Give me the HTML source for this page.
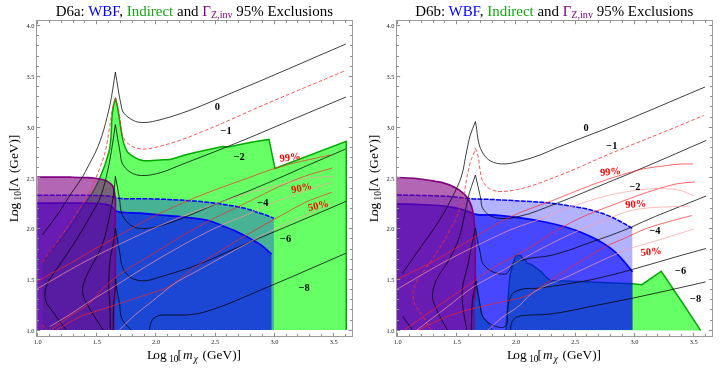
<!DOCTYPE html>
<html><head><meta charset="utf-8"><title>D6a / D6b exclusions</title>
<style>
html,body{margin:0;padding:0;background:#fff}
body{width:720px;height:370px;overflow:hidden}
svg{display:block;will-change:transform;opacity:0.999}
text{font-family:"Liberation Serif",serif;fill:#000}
.ttl{font-size:14.95px}
.ax{font-size:13.3px}
.sub{font-size:9.3px}
.sub2{font-size:10.1px}
.tk{font-size:6.4px;fill:#1a1a1a}
.cl{font-size:10.4px;font-weight:bold}
.rl{font-size:10.5px;font-weight:bold;fill:#ff0000}
</style></head><body>
<svg width="720" height="370" viewBox="0 0 720 370">
<rect width="720" height="370" fill="#fff"/>
<g id="left">
<path d="M42.5,330 L42.5,262 C45.00,258.75 47.48,255.49 50.00,252.25 C56.55,243.83 63.77,235.90 70.00,227.25 C76.76,217.87 82.07,207.46 88.75,198.00 C89.58,196.83 90.45,195.69 91.25,194.50 C94.80,189.25 97.43,183.38 100.00,177.60 C103.66,169.37 106.70,160.70 108.90,152.00 C112.66,137.16 110.21,121.04 113.50,106.00 C114.08,103.36 114.77,100.73 115.40,98.10 C116.02,100.73 116.68,103.36 117.25,106.00 C119.03,114.25 119.70,122.71 121.25,131.00 C122.03,135.18 122.41,139.49 123.75,143.50 C124.73,146.42 125.64,149.66 127.50,152.00 C129.38,154.36 132.28,156.13 135.00,157.60 C137.34,158.86 139.91,159.99 142.50,160.50 C144.92,160.98 147.50,160.78 150.00,160.75 C153.34,160.71 156.66,160.23 160.00,160.00 C163.33,159.78 166.72,159.89 170.00,159.40 C175.12,158.64 179.97,156.34 185.00,155.00 C191.20,153.35 197.49,152.02 203.75,150.60 C209.99,149.19 216.25,147.87 222.50,146.50 L228.10,146.90 L250.00,142.50 L269.00,139.40 L275.00,168.50 L346.25,141.25 L346.25,330.00 Z" fill="#66ff66" stroke="none"/>
<path d="M42.50,262.00 C45.00,258.75 47.48,255.49 50.00,252.25 C56.55,243.83 63.77,235.90 70.00,227.25 C76.76,217.87 82.07,207.46 88.75,198.00 C89.58,196.83 90.45,195.69 91.25,194.50 C94.80,189.25 97.43,183.38 100.00,177.60 C103.66,169.37 106.70,160.70 108.90,152.00 C112.66,137.16 110.21,121.04 113.50,106.00 C114.08,103.36 114.77,100.73 115.40,98.10 C116.02,100.73 116.68,103.36 117.25,106.00 C119.03,114.25 119.70,122.71 121.25,131.00 C122.03,135.18 122.41,139.49 123.75,143.50 C124.73,146.42 125.64,149.66 127.50,152.00 C129.38,154.36 132.28,156.13 135.00,157.60 C137.34,158.86 139.91,159.99 142.50,160.50 C144.92,160.98 147.50,160.78 150.00,160.75 C153.34,160.71 156.66,160.23 160.00,160.00 C163.33,159.78 166.72,159.89 170.00,159.40 C175.12,158.64 179.97,156.34 185.00,155.00 C191.20,153.35 197.49,152.02 203.75,150.60 C209.99,149.19 216.25,147.87 222.50,146.50 L228.10,146.90 L250.00,142.50 L269.00,139.40 L275.00,168.50 L346.25,141.25 L346.25,330.00" fill="none" stroke="#00a800" stroke-width="1.5" stroke-linejoin="miter"/>
<path d="M37.30,195.25 C48.20,195.27 59.10,195.24 70.00,195.30 C80.00,195.36 90.01,195.28 100.00,195.60 C102.67,195.68 105.36,195.56 108.00,195.90 C109.34,196.07 110.69,196.26 112.00,196.60 C113.36,196.95 114.63,197.70 116.00,198.00 C117.30,198.28 118.67,198.29 120.00,198.40 C126.64,198.97 133.33,198.58 140.00,198.70 C146.67,198.82 153.34,198.87 160.00,199.10 C168.34,199.39 176.68,199.83 185.00,200.40 C193.34,200.97 201.70,201.52 210.00,202.50 C216.69,203.29 223.38,204.20 230.00,205.40 C236.71,206.61 243.52,207.65 250.00,209.75 C252.10,210.43 254.16,211.28 256.25,212.00 C259.15,212.99 262.11,213.78 265.00,214.80 C268.00,215.86 270.93,217.10 273.90,218.25 L273.90,330.0 L37.30,330.0 Z" fill="#0000ff" fill-opacity="0.3" stroke="none"/>
<path d="M37.30,195.25 C48.20,195.27 59.10,195.24 70.00,195.30 C80.00,195.36 90.01,195.28 100.00,195.60 C102.67,195.68 105.36,195.56 108.00,195.90 C109.34,196.07 110.69,196.26 112.00,196.60 C113.36,196.95 114.63,197.70 116.00,198.00 C117.30,198.28 118.67,198.29 120.00,198.40 C126.64,198.97 133.33,198.58 140.00,198.70 C146.67,198.82 153.34,198.87 160.00,199.10 C168.34,199.39 176.68,199.83 185.00,200.40 C193.34,200.97 201.70,201.52 210.00,202.50 C216.69,203.29 223.38,204.20 230.00,205.40 C236.71,206.61 243.52,207.65 250.00,209.75 C252.10,210.43 254.16,211.28 256.25,212.00 C259.15,212.99 262.11,213.78 265.00,214.80 C268.00,215.86 270.93,217.10 273.90,218.25" fill="none" stroke="#0000ff" stroke-width="1.5" stroke-dasharray="5 1.2"/>
<path d="M37.30,203.10 C48.20,203.10 59.10,202.99 70.00,203.10 C80.00,203.20 90.05,202.74 100.00,203.70 C102.09,203.90 104.26,203.85 106.25,204.40 C108.45,205.01 110.77,205.95 112.50,207.40 C113.70,208.41 114.29,210.34 115.60,211.10 C116.82,211.81 118.53,211.74 120.00,212.00 C126.57,213.17 133.34,212.70 140.00,213.20 C146.67,213.70 153.33,214.40 160.00,215.00 C168.33,215.75 176.70,216.26 185.00,217.25 C193.36,218.25 201.97,218.61 210.00,221.00 C214.25,222.26 218.35,224.13 222.50,225.75 C226.68,227.38 230.91,228.91 235.00,230.75 C240.13,233.06 245.08,235.77 250.00,238.50 C253.80,240.61 257.74,242.57 261.25,245.10 C264.94,247.76 268.08,251.17 271.50,254.20 L271.50,330.0 L37.30,330.0 Z" fill="#0000ff" fill-opacity="0.6" stroke="none"/>
<path d="M37.30,203.10 C48.20,203.10 59.10,202.99 70.00,203.10 C80.00,203.20 90.05,202.74 100.00,203.70 C102.09,203.90 104.26,203.85 106.25,204.40 C108.45,205.01 110.77,205.95 112.50,207.40 C113.70,208.41 114.29,210.34 115.60,211.10 C116.82,211.81 118.53,211.74 120.00,212.00 C126.57,213.17 133.34,212.70 140.00,213.20 C146.67,213.70 153.33,214.40 160.00,215.00 C168.33,215.75 176.70,216.26 185.00,217.25 C193.36,218.25 201.97,218.61 210.00,221.00 C214.25,222.26 218.35,224.13 222.50,225.75 C226.68,227.38 230.91,228.91 235.00,230.75 C240.13,233.06 245.08,235.77 250.00,238.50 C253.80,240.61 257.74,242.57 261.25,245.10 C264.94,247.76 268.08,251.17 271.50,254.20" fill="none" stroke="#0000ff" stroke-width="1.7"/>
<path d="M37.30,177.20 C48.20,177.20 59.10,177.00 70.00,177.20 C75.00,177.29 80.01,177.35 85.00,177.60 C88.34,177.77 91.71,177.77 95.00,178.25 C99.23,178.87 103.94,179.18 107.50,181.40 C109.33,182.54 111.35,183.97 112.50,185.75 C113.63,187.51 113.94,189.88 114.40,192.00 C114.83,193.97 115.04,195.99 115.25,198.00 C115.84,203.63 115.28,209.33 115.30,215.00 L115.30,330.0 L37.30,330.0 Z" fill="#800080" fill-opacity="0.6" stroke="none"/>
<path d="M37.30,177.20 C48.20,177.20 59.10,177.00 70.00,177.20 C75.00,177.29 80.01,177.35 85.00,177.60 C88.34,177.77 91.71,177.77 95.00,178.25 C99.23,178.87 103.94,179.18 107.50,181.40 C109.33,182.54 111.35,183.97 112.50,185.75 C113.63,187.51 113.94,189.88 114.40,192.00 C114.83,193.97 115.04,195.99 115.25,198.00 C115.84,203.63 115.28,209.33 115.30,215.00 L115.3,299.5" fill="none" stroke="#800080" stroke-width="1.7"/>
<path d="M42.50,234.75 C48.33,226.83 54.55,219.17 60.00,211.00 C63.49,205.77 66.55,200.26 70.00,195.00 C74.01,188.90 78.82,183.29 82.50,177.00 C84.59,173.43 86.37,169.67 88.30,166.00 C90.75,161.34 93.39,156.76 95.60,152.00 C102.34,137.50 106.19,121.61 109.70,106.00 C112.21,94.84 113.50,83.40 115.40,72.10 M115.40,72.10 C117.37,83.40 118.72,94.83 121.30,106.00 C121.69,107.67 121.83,109.48 122.50,111.00 C123.87,114.13 127.10,116.56 130.00,118.50 C132.26,120.01 134.87,121.35 137.50,122.00 C139.89,122.59 142.51,122.53 145.00,122.50 C150.05,122.43 155.06,120.94 160.00,119.80 C166.77,118.24 173.39,115.97 180.00,113.80 C197.58,108.04 214.38,100.04 231.50,93.00 C269.86,77.22 307.77,60.33 345.90,44.00" fill="none" stroke="#000" stroke-width="0.75" stroke-linejoin="miter"/>
<path d="M66.25,330.00 C61.30,323.33 56.16,316.80 51.40,310.00 C49.78,307.68 47.68,305.54 46.60,303.00 C45.18,299.68 44.68,295.61 45.00,292.00 C45.26,289.05 46.33,286.02 47.50,283.25 C49.02,279.66 51.61,276.55 53.75,273.25 C57.34,267.73 61.29,262.44 65.00,257.00 C67.94,252.68 70.92,248.39 73.75,244.00 C79.51,235.08 84.82,225.87 90.00,216.60 C93.44,210.46 97.32,204.47 100.00,198.00 C102.78,191.29 104.47,184.07 106.25,177.00 C108.32,168.77 109.77,160.37 111.25,152.00 C112.86,142.87 114.02,133.67 115.40,124.50 M115.40,124.50 C116.93,133.67 118.20,142.88 120.00,152.00 C120.78,155.98 120.66,160.45 122.50,163.90 C124.17,167.03 126.98,170.05 130.00,172.00 C132.22,173.44 134.90,174.53 137.50,175.10 C139.91,175.63 142.51,175.56 145.00,175.50 C150.05,175.38 155.10,174.08 160.00,172.80 C166.87,171.01 173.34,167.75 180.00,165.20 C203.43,156.22 226.81,147.09 250.00,137.50 C263.80,131.79 277.49,125.81 291.25,120.00 C309.48,112.30 327.75,104.67 346.00,97.00" fill="none" stroke="#000" stroke-width="0.75" stroke-linejoin="miter"/>
<path d="M103.10,330.00 C100.40,325.83 97.63,321.71 95.00,317.50 C92.43,313.38 89.79,309.28 87.50,305.00 C86.18,302.54 84.58,300.13 83.75,297.50 C82.97,295.05 82.48,292.35 82.50,289.80 C82.53,286.34 83.84,282.82 85.00,279.50 C86.27,275.86 88.24,272.45 90.00,269.00 C92.16,264.76 94.78,260.76 96.90,256.50 C98.93,252.42 100.86,248.24 102.50,244.00 C106.63,233.32 108.23,221.74 110.60,210.50 C111.48,206.34 112.41,202.19 113.10,198.00 C114.28,190.86 114.63,183.60 115.40,176.40 M115.40,176.40 C116.73,183.60 118.10,190.79 119.40,198.00 C120.45,203.83 119.83,210.39 122.50,215.50 C124.04,218.44 126.18,221.47 128.75,223.60 C130.91,225.38 133.58,226.91 136.25,227.75 C138.99,228.61 142.09,228.60 145.00,228.60 C150.03,228.59 155.10,227.25 160.00,226.00 C164.41,224.88 168.69,223.20 173.00,221.70 C188.57,216.29 203.47,209.08 218.75,202.90 C229.15,198.69 239.63,194.68 250.00,190.40 C261.31,185.73 272.54,180.90 283.75,176.00 C291.27,172.71 298.74,169.30 306.25,166.00 C319.33,160.25 332.48,154.67 345.60,149.00" fill="none" stroke="#000" stroke-width="0.75" stroke-linejoin="miter"/>
<path d="M110.25,330.00 C110.08,320.83 110.30,311.65 109.75,302.50 C109.50,298.33 108.90,294.17 108.75,290.00 C108.58,285.09 108.77,280.16 109.00,275.25 C109.29,268.99 109.65,262.69 110.60,256.50 C111.24,252.31 112.37,248.18 113.10,244.00 C114.03,238.69 114.63,233.33 115.40,228.00 M115.40,228.00 C116.30,233.33 117.13,238.68 118.10,244.00 C118.71,247.34 119.40,250.66 120.00,254.00 C120.67,257.74 120.70,261.67 121.90,265.25 C122.69,267.61 123.59,270.08 125.00,272.10 C126.33,274.00 128.10,275.78 130.00,277.10 C132.19,278.61 134.91,279.64 137.50,280.25 C140.69,281.00 144.22,280.84 147.50,280.50 C151.76,280.05 155.84,278.20 160.00,277.00 C169.72,274.19 179.45,271.30 189.00,268.00 C209.87,260.78 229.65,250.63 250.00,242.00 C273.73,231.94 297.56,222.13 321.25,212.00 C329.59,208.43 337.92,204.83 346.25,201.25" fill="none" stroke="#000" stroke-width="0.75" stroke-linejoin="miter"/>
<path d="M113.10,330.00 C113.32,320.83 113.06,311.64 113.75,302.50 C114.07,298.33 114.68,294.17 115.00,290.00 C115.28,286.34 115.40,282.67 115.60,279.00 M115.60,279.00 C116.03,282.67 116.33,286.35 116.90,290.00 C117.55,294.20 118.61,298.33 119.40,302.50 C120.51,308.32 119.60,314.98 122.50,320.00 C123.52,321.77 124.90,323.42 126.25,325.00 C127.78,326.78 129.58,328.33 131.25,330.00" fill="none" stroke="#000" stroke-width="0.75" stroke-linejoin="miter"/>
<path d="M149.40,330.00 C149.80,327.92 149.91,325.73 150.60,323.75 C151.21,322.01 151.90,320.06 153.10,318.75 C154.49,317.23 156.75,316.27 158.75,315.60 C161.46,314.70 164.58,315.14 167.50,315.00 C173.74,314.71 180.03,315.45 186.25,315.00 C190.01,314.73 193.79,314.35 197.50,313.70 C205.19,312.36 212.61,309.46 220.00,306.90 C230.20,303.36 240.02,298.75 250.00,294.60 C278.49,282.77 306.72,270.32 335.00,258.00 C338.67,256.40 342.33,254.80 346.00,253.20" fill="none" stroke="#000" stroke-width="0.75" stroke-linejoin="miter"/>
<path d="M42.50,262.00 C43.75,260.33 45.01,258.67 46.25,257.00 C57.38,242.04 68.04,226.70 78.10,211.00 C80.86,206.69 83.74,202.45 86.25,198.00 C90.06,191.26 93.25,184.14 96.25,177.00 C99.67,168.85 102.97,160.53 105.20,152.00 C107.21,144.33 108.06,136.34 109.40,128.50 C110.68,121.01 111.36,113.39 113.10,106.00 C113.79,103.08 114.63,100.20 115.40,97.30 M115.40,97.30 C116.20,100.20 117.11,103.08 117.80,106.00 C118.78,110.12 119.40,114.32 120.10,118.50 C121.02,123.98 120.57,129.84 122.50,135.00 C123.19,136.84 123.90,138.80 125.00,140.40 C126.79,143.01 129.69,145.15 132.50,146.60 C135.48,148.13 139.11,148.91 142.50,149.10 C144.97,149.24 147.52,148.85 150.00,148.50 C153.38,148.02 156.68,147.03 160.00,146.20 C166.74,144.51 173.42,142.51 180.00,140.30 C188.90,137.31 197.54,133.53 206.25,130.00 C227.73,121.31 248.68,111.33 270.00,102.25 C277.29,99.15 284.60,96.08 291.90,93.00 C309.88,85.42 327.90,77.93 345.90,70.40" fill="none" stroke="#ff2a2a" stroke-width="0.8" stroke-linejoin="miter" stroke-dasharray="3.7 2.2"/>
<path d="M42.3,325 L46.25,330" fill="none" stroke="#ff2020" stroke-width="0.9" stroke-dasharray="3.4 1.6"/>
<path d="M37.30,281.25 C51.95,273.17 66.94,265.67 81.25,257.00 C84.18,255.22 87.05,253.34 90.00,251.60 C94.51,248.94 99.16,246.53 103.75,244.00 C122.46,233.69 140.78,222.58 160.00,213.30 C169.87,208.53 179.91,204.04 190.00,199.75 C209.65,191.40 229.93,184.56 250.00,177.25 C258.32,174.22 266.58,170.95 275.00,168.25 C292.93,162.49 311.67,159.42 330.00,155.00" fill="none" stroke="#ff2020" stroke-width="0.85" stroke-opacity="0.8"/>
<path d="M50.60,330.00 C57.07,325.42 63.46,320.73 70.00,316.25 C76.60,311.73 84.17,308.37 90.00,303.00 C94.18,299.15 97.31,294.12 101.25,290.00 C117.59,272.88 139.89,262.17 160.00,249.50 C175.33,239.85 190.92,230.51 206.90,222.00 C220.99,214.49 235.68,208.09 250.00,201.00 C258.35,196.86 266.54,192.40 275.00,188.50 C283.22,184.71 291.53,181.05 300.00,177.90 C310.61,173.96 321.67,171.23 332.50,167.90" fill="none" stroke="#ff2020" stroke-width="0.85" stroke-opacity="0.8"/>
<path d="M56.25,330.00 C60.83,327.40 65.41,324.79 70.00,322.20 C73.33,320.33 76.60,318.33 80.00,316.60 C80.66,316.26 81.31,315.88 82.00,315.60 C82.71,315.31 83.47,315.13 84.20,314.90 C86.12,314.30 88.07,313.78 90.00,313.20 C98.40,310.68 106.67,307.73 115.00,305.00 C130.00,300.09 145.05,295.36 160.00,290.30 C161.67,289.74 163.36,289.23 165.00,288.60 C175.96,284.41 184.02,274.64 193.75,268.00 C211.98,255.55 230.94,244.13 250.00,233.00 C262.37,225.78 274.94,218.89 287.50,212.00 C293.32,208.81 299.02,205.34 305.00,202.50 C313.65,198.40 322.93,195.67 331.90,192.25" fill="none" stroke="#ff2020" stroke-width="0.85" stroke-opacity="0.8"/>
<path d="M37.30,288.70 C54.87,278.77 72.11,268.22 90.00,258.90 C99.90,253.74 109.94,248.85 120.00,244.00 C133.23,237.62 146.51,231.30 160.00,225.50 C179.27,217.22 198.95,209.84 218.75,202.90 C229.11,199.27 239.47,195.57 250.00,192.50 C258.26,190.09 266.66,188.13 275.00,186.00 C283.32,183.88 291.58,181.41 300.00,179.75 C304.97,178.77 309.97,177.79 315.00,177.25 C321.21,176.59 327.50,176.82 333.75,176.60" fill="none" stroke="#ff9a9a" stroke-width="0.9" stroke-opacity="0.75"/>
<path d="M50.00,326.50 C56.67,322.47 63.43,318.59 70.00,314.40 C75.48,310.91 80.78,307.11 86.25,303.60 C93.57,298.91 101.09,294.55 108.50,290.00 C125.72,279.42 142.52,268.11 160.00,258.00 C182.32,245.10 204.78,232.06 228.50,222.00 C235.59,218.99 243.00,216.72 250.00,213.50 C254.23,211.56 258.28,209.21 262.50,207.25 C270.63,203.47 279.10,200.40 287.50,197.25 C295.77,194.15 304.13,191.30 312.50,188.50 C318.94,186.35 325.43,184.33 331.90,182.25" fill="none" stroke="#ff9a9a" stroke-width="0.9" stroke-opacity="0.75"/>
<path d="M119.40,330.00 C122.93,326.47 126.36,322.81 130.00,319.40 C137.45,312.42 145.78,306.40 153.75,300.00 C155.83,298.33 157.93,296.68 160.00,295.00 C163.36,292.28 166.56,289.35 170.00,286.75 C179.95,279.23 191.61,274.15 202.50,268.00 C218.22,259.12 234.12,250.58 250.00,242.00 C256.66,238.40 263.25,234.66 270.00,231.25 C282.22,225.07 295.03,220.08 307.50,214.40 C315.43,210.79 323.33,207.13 331.25,203.50" fill="none" stroke="#ff9a9a" stroke-width="0.9" stroke-opacity="0.75"/>
<rect x="36.5" y="20.5" width="316.0" height="316.0" fill="none" stroke="#9a9a9a" stroke-width="1"/>
<path d="M37.5,336.0 v-3.2 M37.5,21.0 v3.2 M49.5,336.0 v-2.0 M49.5,21.0 v2.0 M61.5,336.0 v-2.0 M61.5,21.0 v2.0 M73.5,336.0 v-2.0 M73.5,21.0 v2.0 M84.5,336.0 v-2.0 M84.5,21.0 v2.0 M96.5,336.0 v-3.2 M96.5,21.0 v3.2 M108.5,336.0 v-2.0 M108.5,21.0 v2.0 M120.5,336.0 v-2.0 M120.5,21.0 v2.0 M132.5,336.0 v-2.0 M132.5,21.0 v2.0 M144.5,336.0 v-2.0 M144.5,21.0 v2.0 M155.5,336.0 v-3.2 M155.5,21.0 v3.2 M167.5,336.0 v-2.0 M167.5,21.0 v2.0 M179.5,336.0 v-2.0 M179.5,21.0 v2.0 M191.5,336.0 v-2.0 M191.5,21.0 v2.0 M203.5,336.0 v-2.0 M203.5,21.0 v2.0 M215.5,336.0 v-3.2 M215.5,21.0 v3.2 M226.5,336.0 v-2.0 M226.5,21.0 v2.0 M238.5,336.0 v-2.0 M238.5,21.0 v2.0 M250.5,336.0 v-2.0 M250.5,21.0 v2.0 M262.5,336.0 v-2.0 M262.5,21.0 v2.0 M274.5,336.0 v-3.2 M274.5,21.0 v3.2 M286.5,336.0 v-2.0 M286.5,21.0 v2.0 M297.5,336.0 v-2.0 M297.5,21.0 v2.0 M309.5,336.0 v-2.0 M309.5,21.0 v2.0 M321.5,336.0 v-2.0 M321.5,21.0 v2.0 M333.5,336.0 v-3.2 M333.5,21.0 v3.2 M345.5,336.0 v-2.0 M345.5,21.0 v2.0 M37.0,330.5 h3.2 M352.0,330.5 h-3.2 M37.0,320.5 h2.0 M352.0,320.5 h-2.0 M37.0,309.5 h2.0 M352.0,309.5 h-2.0 M37.0,299.5 h2.0 M352.0,299.5 h-2.0 M37.0,289.5 h2.0 M352.0,289.5 h-2.0 M37.0,279.5 h3.2 M352.0,279.5 h-3.2 M37.0,269.5 h2.0 M352.0,269.5 h-2.0 M37.0,259.5 h2.0 M352.0,259.5 h-2.0 M37.0,249.5 h2.0 M352.0,249.5 h-2.0 M37.0,238.5 h2.0 M352.0,238.5 h-2.0 M37.0,228.5 h3.2 M352.0,228.5 h-3.2 M37.0,218.5 h2.0 M352.0,218.5 h-2.0 M37.0,208.5 h2.0 M352.0,208.5 h-2.0 M37.0,198.5 h2.0 M352.0,198.5 h-2.0 M37.0,188.5 h2.0 M352.0,188.5 h-2.0 M37.0,177.5 h3.2 M352.0,177.5 h-3.2 M37.0,167.5 h2.0 M352.0,167.5 h-2.0 M37.0,157.5 h2.0 M352.0,157.5 h-2.0 M37.0,147.5 h2.0 M352.0,147.5 h-2.0 M37.0,137.5 h2.0 M352.0,137.5 h-2.0 M37.0,127.5 h3.2 M352.0,127.5 h-3.2 M37.0,117.5 h2.0 M352.0,117.5 h-2.0 M37.0,106.5 h2.0 M352.0,106.5 h-2.0 M37.0,96.5 h2.0 M352.0,96.5 h-2.0 M37.0,86.5 h2.0 M352.0,86.5 h-2.0 M37.0,76.5 h3.2 M352.0,76.5 h-3.2 M37.0,66.5 h2.0 M352.0,66.5 h-2.0 M37.0,56.5 h2.0 M352.0,56.5 h-2.0 M37.0,45.5 h2.0 M352.0,45.5 h-2.0 M37.0,35.5 h2.0 M352.0,35.5 h-2.0 M37.0,25.5 h3.2 M352.0,25.5 h-3.2 " stroke="#8c8c8c" stroke-width="1" fill="none"/>
<text transform="translate(37.70,343.9) scale(1,1.04)" class="tk" text-anchor="middle">1.0</text>
<text transform="translate(96.90,343.9) scale(1,1.04)" class="tk" text-anchor="middle">1.5</text>
<text transform="translate(156.10,343.9) scale(1,1.04)" class="tk" text-anchor="middle">2.0</text>
<text transform="translate(215.30,343.9) scale(1,1.04)" class="tk" text-anchor="middle">2.5</text>
<text transform="translate(274.50,343.9) scale(1,1.04)" class="tk" text-anchor="middle">3.0</text>
<text transform="translate(333.70,343.9) scale(1,1.04)" class="tk" text-anchor="middle">3.5</text>
<text transform="translate(34.40,332.90) scale(1,1.04)" class="tk" text-anchor="end">1.0</text>
<text transform="translate(34.40,282.13) scale(1,1.04)" class="tk" text-anchor="end">1.5</text>
<text transform="translate(34.40,231.35) scale(1,1.04)" class="tk" text-anchor="end">2.0</text>
<text transform="translate(34.40,180.58) scale(1,1.04)" class="tk" text-anchor="end">2.5</text>
<text transform="translate(34.40,129.80) scale(1,1.04)" class="tk" text-anchor="end">3.0</text>
<text transform="translate(34.40,79.03) scale(1,1.04)" class="tk" text-anchor="end">3.5</text>
<text transform="translate(34.40,28.25) scale(1,1.04)" class="tk" text-anchor="end">4.0</text>
<text x="194.3" y="15.7" class="ttl" text-anchor="middle">D6a: <tspan fill="#0000ff">WBF</tspan>, <tspan fill="#14a514">Indirect</tspan> and <tspan fill="#800080">Γ<tspan class="sub2" dy="2.5">Z,inv</tspan></tspan><tspan dy="-2.5"> 95% Exclusions</tspan></text>
<text transform="translate(0,359.3)" class="ax"><tspan x="147.1 153.2 159.9">Log</tspan><tspan class="sub" x="169.2" dy="3.1">10</tspan><tspan x="177.5" dy="-3.1">[</tspan><tspan font-style="italic" x="183.0">m</tspan><tspan class="sub" font-style="italic" x="193.7" dy="3.1">χ</tspan><tspan x="202.6" dy="-3.1">(GeV)]</tspan></text>
<text transform="translate(17.6,222.0) rotate(-90)" class="ax"><tspan x="-0.2 5.9 12.6">Log</tspan><tspan class="sub" x="21.5" dy="3.1">10</tspan><tspan x="30.7" dy="-3.1">[</tspan><tspan x="34.9">Λ</tspan><tspan x="48.9">(GeV)]</tspan></text>
<text x="214.8" y="110.3" class="cl">0</text>
<text x="220.5" y="134.4" class="cl">−1</text>
<text x="233.7" y="160.2" class="cl">−2</text>
<text x="257.4" y="205.5" class="cl">−4</text>
<text x="280" y="242" class="cl">−6</text>
<text x="298.7" y="291" class="cl">−8</text>
<text transform="translate(280,161.8) rotate(-7)" class="rl">99%</text>
<text transform="translate(292,193.3) rotate(-12)" class="rl">90%</text>
<text transform="translate(308.8,211.2) rotate(-13)" class="rl">50%</text>
</g>
<g id="right">
<path d="M471.50,330.00 L472.00,309.00 L473.50,295.00 L475.40,274.00 L477.25,290.00 L480.00,305.00 L482.50,316.25 L488.00,323.00 L492.50,330.00 Z M506.25,330.00 L506.25,322.00 L507.50,307.25 L508.75,288.50 L510.00,276.00 L512.50,265.00 L515.60,255.60 L520.60,255.60 L522.50,258.10 L525.60,260.00 L526.90,263.10 L531.25,264.40 L536.25,268.10 L541.25,271.90 L545.00,276.00 L550.00,280.40 L590.00,282.00 L632.50,283.75 L641.90,284.70 L661.25,271.25 L681.25,301.00 L700.60,330.40 Z" fill="#66ff66" stroke="none"/>
<path d="M471.50,330.00 L472.00,309.00 L473.50,295.00 L475.40,274.00 L477.25,290.00 L480.00,305.00 L482.50,316.25 L488.00,323.00 L492.50,330.00" fill="none" stroke="#00a800" stroke-width="1.0"/>
<path d="M506.25,330.00 L506.25,322.00 L507.50,307.25 L508.75,288.50 L510.00,276.00 L512.50,265.00 L515.60,255.60 L520.60,255.60 L522.50,258.10 L525.60,260.00 L526.90,263.10 L531.25,264.40 L536.25,268.10 L541.25,271.90 L545.00,276.00 L550.00,280.40 L590.00,282.00 L632.50,283.75 L641.90,284.70 L661.25,271.25 L681.25,301.00 L700.60,330.40" fill="none" stroke="#00a800" stroke-width="1.5" stroke-linejoin="miter"/>
<path d="M397.00,195.00 C404.67,195.13 412.34,195.20 420.00,195.40 C430.00,195.66 440.03,195.73 450.00,196.50 C456.68,197.02 463.32,198.09 470.00,198.60 C478.31,199.23 486.67,199.20 495.00,199.60 C503.34,200.00 511.67,200.52 520.00,201.00 C528.33,201.48 536.70,201.67 545.00,202.50 C553.37,203.33 561.70,204.62 570.00,206.00 C576.69,207.11 583.45,208.06 590.00,209.75 C596.79,211.50 603.57,213.61 610.00,216.40 C613.83,218.06 617.56,220.03 621.25,222.00 C624.99,223.99 628.62,226.20 632.30,228.30 L632.50,330.0 L397.00,330.0 Z" fill="#0000ff" fill-opacity="0.3" stroke="none"/>
<path d="M397.00,195.00 C404.67,195.13 412.34,195.20 420.00,195.40 C430.00,195.66 440.03,195.73 450.00,196.50 C456.68,197.02 463.32,198.09 470.00,198.60 C478.31,199.23 486.67,199.20 495.00,199.60 C503.34,200.00 511.67,200.52 520.00,201.00 C528.33,201.48 536.70,201.67 545.00,202.50 C553.37,203.33 561.70,204.62 570.00,206.00 C576.69,207.11 583.45,208.06 590.00,209.75 C596.79,211.50 603.57,213.61 610.00,216.40 C613.83,218.06 617.56,220.03 621.25,222.00 C624.99,223.99 628.62,226.20 632.30,228.30" fill="none" stroke="#0000ff" stroke-width="1.5" stroke-dasharray="5 1.2"/>
<path d="M397.00,204.00 C405.50,204.25 414.01,204.30 422.50,204.75 C431.68,205.23 440.95,205.36 450.00,206.90 C453.77,207.54 457.57,208.22 461.25,209.25 C464.64,210.20 468.02,211.33 471.25,212.75 C471.87,213.02 472.48,213.34 473.10,213.60 C479.04,216.09 486.04,214.36 492.50,214.90 C501.68,215.66 510.87,216.54 520.00,217.80 C528.37,218.95 536.74,220.25 545.00,222.00 C555.11,224.14 565.29,226.47 575.00,230.00 C580.08,231.85 585.10,233.94 590.00,236.25 C592.53,237.44 595.05,238.66 597.50,240.00 C603.67,243.39 609.75,247.24 615.00,251.90 C618.61,255.11 621.84,258.81 625.00,262.50 C627.62,265.56 630.00,268.83 632.50,272.00 L632.50,330.0 L397.00,330.0 Z" fill="#0000ff" fill-opacity="0.6" stroke="none"/>
<path d="M397.00,204.00 C405.50,204.25 414.01,204.30 422.50,204.75 C431.68,205.23 440.95,205.36 450.00,206.90 C453.77,207.54 457.57,208.22 461.25,209.25 C464.64,210.20 468.02,211.33 471.25,212.75 C471.87,213.02 472.48,213.34 473.10,213.60 C479.04,216.09 486.04,214.36 492.50,214.90 C501.68,215.66 510.87,216.54 520.00,217.80 C528.37,218.95 536.74,220.25 545.00,222.00 C555.11,224.14 565.29,226.47 575.00,230.00 C580.08,231.85 585.10,233.94 590.00,236.25 C592.53,237.44 595.05,238.66 597.50,240.00 C603.67,243.39 609.75,247.24 615.00,251.90 C618.61,255.11 621.84,258.81 625.00,262.50 C627.62,265.56 630.00,268.83 632.50,272.00" fill="none" stroke="#0000ff" stroke-width="1.7"/>
<path d="M397.00,177.50 C403.42,177.83 409.86,177.86 416.25,178.50 C422.53,179.12 428.77,180.19 435.00,181.25 C437.50,181.68 440.05,181.97 442.50,182.60 C446.83,183.71 451.09,185.44 455.00,187.60 C457.62,189.05 460.25,190.64 462.50,192.60 C464.33,194.20 466.10,196.02 467.50,198.00 C469.10,200.26 470.30,202.89 471.25,205.50 C472.12,207.91 472.61,210.48 473.10,213.00 C473.74,216.29 474.08,219.66 474.40,223.00 C475.07,229.96 474.85,237.00 475.00,244.00 C475.11,249.33 475.17,254.67 475.25,260.00 L475.25,330.0 L397.00,330.0 Z" fill="#800080" fill-opacity="0.6" stroke="none"/>
<path d="M397.00,177.50 C403.42,177.83 409.86,177.86 416.25,178.50 C422.53,179.12 428.77,180.19 435.00,181.25 C437.50,181.68 440.05,181.97 442.50,182.60 C446.83,183.71 451.09,185.44 455.00,187.60 C457.62,189.05 460.25,190.64 462.50,192.60 C464.33,194.20 466.10,196.02 467.50,198.00 C469.10,200.26 470.30,202.89 471.25,205.50 C472.12,207.91 472.61,210.48 473.10,213.00 C473.74,216.29 474.08,219.66 474.40,223.00 C475.07,229.96 474.85,237.00 475.00,244.00 C475.11,249.33 475.17,254.67 475.25,260.00 L475.25,299.5" fill="none" stroke="#800080" stroke-width="1.7"/>
<path d="M402.50,273.25 C406.25,267.83 410.01,262.43 413.75,257.00 C424.27,241.73 435.95,227.16 445.00,211.00 C447.40,206.72 449.72,202.39 451.90,198.00 C455.31,191.14 458.86,184.24 461.25,177.00 C463.90,168.96 464.71,160.32 466.50,152.00 C467.65,146.66 468.45,141.22 470.00,136.00 C471.46,131.10 473.60,126.40 475.40,121.60 M475.40,121.60 C477.67,131.73 477.00,143.06 482.20,152.00 C482.69,152.84 483.19,153.70 483.75,154.50 C485.44,156.90 487.56,159.23 490.00,160.75 C492.21,162.13 494.92,162.98 497.50,163.50 C499.93,163.99 502.51,163.96 505.00,163.90 C510.05,163.78 515.06,162.35 520.00,161.20 C526.78,159.61 533.46,157.42 540.00,155.00 C545.94,152.80 551.64,149.94 557.50,147.50 C572.35,141.30 587.55,135.95 602.50,130.00 C636.92,116.30 670.83,101.33 705.00,87.00" fill="none" stroke="#000" stroke-width="0.75" stroke-linejoin="miter"/>
<path d="M447.50,330.00 C445.83,327.08 444.10,324.20 442.50,321.25 C440.28,317.15 438.00,313.05 436.25,308.75 C434.76,305.10 432.79,301.37 432.50,297.50 C432.31,295.05 432.66,292.45 433.10,290.00 C433.70,286.66 434.97,283.39 436.25,280.25 C439.20,273.02 444.95,267.12 448.75,260.25 C451.68,254.95 454.61,249.58 456.90,244.00 C460.93,234.17 462.71,223.43 465.00,213.00 C466.09,208.02 466.78,202.94 468.00,198.00 C469.92,190.22 472.93,182.73 475.40,175.10 M475.40,175.10 C477.13,182.73 479.06,190.33 480.60,198.00 C481.27,201.33 481.01,205.09 482.50,208.00 C483.86,210.66 486.25,213.23 488.75,214.90 C491.25,216.56 494.49,217.40 497.50,218.00 C499.94,218.49 502.51,218.60 505.00,218.60 C510.03,218.61 515.06,217.25 520.00,216.20 C532.48,213.55 544.26,207.97 556.25,203.50 C574.37,196.74 592.08,188.90 610.00,181.60 C614.58,179.73 619.17,177.88 623.75,176.00 C651.45,164.62 678.75,152.27 706.25,140.40" fill="none" stroke="#000" stroke-width="0.75" stroke-linejoin="miter"/>
<path d="M466.90,330.00 C465.63,322.92 463.87,315.89 463.10,308.75 C462.43,302.54 461.77,296.19 462.20,290.00 C462.76,282.06 465.83,274.35 467.50,266.50 C469.09,259.02 470.45,251.49 472.00,244.00 C473.11,238.66 474.27,233.33 475.40,228.00 M475.40,228.00 C476.30,233.33 476.91,238.73 478.10,244.00 C478.67,246.51 479.40,248.99 480.00,251.50 C480.90,255.23 480.69,259.51 482.50,262.75 C483.95,265.36 486.30,267.84 488.75,269.60 C491.27,271.42 494.45,272.79 497.50,273.40 C500.50,274.00 504.63,275.04 506.90,273.30 C507.90,272.53 508.63,271.14 509.40,270.00 C510.59,268.23 511.16,265.92 512.50,264.40 C515.32,261.20 520.74,260.72 525.00,259.40 C533.00,256.92 541.79,257.44 550.00,255.60 C558.47,253.71 566.78,250.94 575.00,248.10 C580.04,246.36 584.98,244.31 590.00,242.50 C596.63,240.11 603.39,238.04 610.00,235.60 C617.37,232.88 624.71,230.06 631.90,226.90 C635.46,225.33 638.96,223.61 642.50,222.00 C660.13,214.01 678.34,207.35 696.25,200.00 C699.50,198.67 702.75,197.33 706.00,196.00" fill="none" stroke="#000" stroke-width="0.75" stroke-linejoin="miter"/>
<path d="M471.25,330.00 C471.47,322.92 471.44,315.82 471.90,308.75 C472.20,304.16 472.15,299.49 473.10,295.00 C473.46,293.32 474.04,291.68 474.40,290.00 C475.03,287.05 475.20,284.00 475.60,281.00 M475.60,281.00 C476.23,284.00 476.92,286.99 477.50,290.00 C478.47,294.97 479.02,300.03 480.00,305.00 C480.75,308.77 480.69,313.04 482.50,316.25 C484.17,319.21 487.07,321.89 490.00,323.75 C492.25,325.18 494.88,326.36 497.50,326.90 C499.51,327.32 502.01,328.12 503.75,327.25 C504.68,326.78 505.57,325.83 506.25,325.00 C508.79,321.91 506.98,316.65 507.50,312.50 C508.03,308.32 507.93,303.89 509.40,300.00 C510.29,297.63 511.26,294.91 513.00,293.20 C514.77,291.46 517.58,290.57 520.00,289.70 C525.42,287.74 531.68,288.87 537.50,288.25 C545.86,287.36 554.19,286.04 562.50,284.75 C571.69,283.32 580.89,281.84 590.00,280.00 C604.30,277.11 618.40,273.17 632.50,269.40 C649.25,264.93 665.80,259.68 682.50,255.00 C690.33,252.81 698.17,250.67 706.00,248.50" fill="none" stroke="#000" stroke-width="0.75" stroke-linejoin="miter"/>
<path d="M510.60,330.00 C510.82,327.92 510.58,325.67 511.25,323.75 C511.97,321.68 513.29,319.42 515.00,318.10 C516.37,317.04 518.27,316.45 520.00,316.00 C521.61,315.58 523.33,315.58 525.00,315.40 C533.29,314.50 541.72,315.06 550.00,314.10 C556.28,313.37 562.52,312.15 568.75,311.00 C575.86,309.69 582.91,308.04 590.00,306.60 C603.32,303.89 616.69,301.48 630.00,298.75 C655.29,293.56 680.40,287.52 705.60,281.90" fill="none" stroke="#000" stroke-width="0.75" stroke-linejoin="miter"/>
<path d="M402.50,316.10 L412.50,330.00" fill="none" stroke="#000" stroke-width="0.75" stroke-linejoin="miter"/>
<path d="M431.25,330.00 C430.20,328.50 429.10,327.03 428.10,325.50 C426.01,322.30 424.55,318.72 422.50,315.50 C420.58,312.48 417.98,309.88 416.25,306.75 C415.58,305.53 414.89,304.29 414.40,303.00 C413.10,299.59 412.74,295.59 413.10,292.00 C413.44,288.60 414.81,285.14 416.25,282.00 C418.34,277.43 422.08,273.67 425.00,269.50 C427.92,265.33 430.91,261.22 433.75,257.00 C436.97,252.20 440.17,247.38 443.10,242.40 C445.53,238.26 447.71,233.97 450.00,229.75 C451.67,226.67 453.48,223.65 455.00,220.50 C458.46,213.34 461.02,205.67 463.10,198.00 C465.18,190.33 465.75,182.27 467.50,174.50 C468.63,169.47 469.51,164.34 471.25,159.50 C472.16,156.95 473.56,154.57 474.40,152.00 C474.78,150.85 475.07,149.67 475.40,148.50 M475.40,148.50 C475.90,149.67 476.45,150.82 476.90,152.00 C479.00,157.51 478.81,163.70 480.00,169.50 C480.77,173.26 480.79,177.43 482.50,180.75 C483.95,183.56 486.17,186.47 488.75,188.25 C491.21,189.95 494.48,190.93 497.50,191.40 C499.93,191.78 502.51,191.54 505.00,191.40 C510.05,191.12 515.05,189.95 520.00,188.90 C533.05,186.12 545.49,180.70 558.00,176.00 C575.64,169.38 592.60,161.00 610.00,153.75 C629.50,145.63 649.21,138.02 668.75,130.00 C680.43,125.20 692.08,120.33 703.75,115.50" fill="none" stroke="#ff2a2a" stroke-width="0.8" stroke-linejoin="miter" stroke-dasharray="3.7 2.2"/>
<path d="M397.00,279.50 C411.75,272.00 427.05,265.49 441.25,257.00 C444.19,255.24 447.06,253.37 450.00,251.60 C454.32,249.00 458.72,246.52 463.10,244.00 C481.88,233.21 500.09,221.00 520.00,212.60 C528.57,208.98 537.51,206.16 546.25,202.90 C567.57,194.94 588.34,185.46 610.00,178.50 C613.74,177.30 617.49,176.13 621.25,175.00 C628.71,172.76 636.14,170.32 643.75,168.75 C651.15,167.22 658.74,166.54 666.25,165.60 C670.83,165.03 675.40,164.26 680.00,164.00 C684.35,163.75 688.73,164.00 693.10,164.00" fill="none" stroke="#ff2020" stroke-width="0.85" stroke-opacity="0.8"/>
<path d="M404.40,330.00 C412.93,323.97 421.48,317.95 430.00,311.90 C434.17,308.94 438.31,305.94 442.50,303.00 C448.78,298.60 455.16,294.33 461.50,290.00 C474.32,281.24 486.52,271.41 500.00,263.75 C506.52,260.05 513.43,257.03 520.00,253.40 C532.89,246.28 544.72,237.33 557.50,230.00 C562.26,227.27 567.02,224.50 571.90,222.00 C579.41,218.15 587.17,214.75 595.00,211.60 C599.95,209.61 605.00,207.87 610.00,206.00 C618.34,202.88 626.61,199.58 635.00,196.60 C643.28,193.66 651.56,190.67 660.00,188.25 C666.19,186.47 672.41,184.55 678.75,183.50 C684.10,182.62 689.58,182.50 695.00,182.00" fill="none" stroke="#ff2020" stroke-width="0.85" stroke-opacity="0.8"/>
<path d="M418.75,330.00 C422.50,328.13 426.22,326.21 430.00,324.40 C436.58,321.25 443.16,318.02 450.00,315.50 C451.66,314.89 453.33,314.31 455.00,313.75 C463.19,310.99 471.62,309.00 480.00,306.90 C486.64,305.24 493.32,303.72 500.00,302.25 C506.65,300.79 513.45,299.94 520.00,298.10 C521.67,297.63 523.37,297.19 525.00,296.60 C530.95,294.45 535.88,290.00 541.25,286.60 C546.71,283.14 552.06,279.50 557.50,276.00 C568.25,269.08 578.96,262.06 590.00,255.60 C596.59,251.74 603.07,247.60 610.00,244.40 C613.47,242.80 617.08,241.49 620.60,240.00 C629.63,236.18 638.31,231.46 647.50,228.10 C655.66,225.12 664.12,222.94 672.50,220.60 C678.94,218.80 685.43,217.20 691.90,215.50" fill="none" stroke="#ff2020" stroke-width="0.85" stroke-opacity="0.8"/>
<path d="M397.00,289.25 C414.67,279.13 431.97,268.33 450.00,258.90 C459.89,253.73 469.92,248.79 480.00,244.00 C493.19,237.73 506.25,230.98 520.00,226.10 C524.13,224.64 528.35,223.43 532.50,222.00 C545.20,217.63 557.33,211.68 570.00,207.25 C583.15,202.65 596.43,198.11 610.00,195.00 C618.25,193.11 626.61,191.48 635.00,190.40 C643.28,189.33 651.67,188.34 660.00,188.50 C666.67,188.63 673.58,188.73 680.00,190.40 C684.72,191.63 689.17,193.97 693.75,195.75" fill="none" stroke="#ff9a9a" stroke-width="0.9" stroke-opacity="0.75"/>
<path d="M416.90,330.00 C421.27,326.67 425.63,323.32 430.00,320.00 C436.65,314.95 443.40,310.02 450.00,304.90 C456.31,300.01 462.24,294.58 468.75,290.00 C478.57,283.09 489.59,277.95 500.00,271.90 C506.67,268.02 513.28,264.03 520.00,260.25 C539.52,249.28 559.40,238.75 580.00,230.00 C586.60,227.20 593.33,224.67 600.00,222.00 C603.33,220.67 606.66,219.31 610.00,218.00 C616.21,215.57 622.33,212.68 628.75,211.00 C634.84,209.41 641.22,208.71 647.50,208.00 C655.78,207.06 664.16,207.07 672.50,206.70 C678.33,206.44 684.17,206.23 690.00,206.00" fill="none" stroke="#ff9a9a" stroke-width="0.9" stroke-opacity="0.75"/>
<path d="M488.10,330.00 C492.07,326.37 495.86,322.52 500.00,319.10 C506.27,313.91 514.01,310.49 520.00,305.00 C522.85,302.38 525.24,299.19 528.10,296.60 C539.26,286.49 555.07,282.60 568.75,276.00 C575.80,272.60 582.88,269.25 590.00,266.00 C604.03,259.59 617.93,252.69 632.50,247.70 C641.11,244.75 650.02,242.64 658.75,240.00 C670.46,236.46 682.08,232.67 693.75,229.00" fill="none" stroke="#ff9a9a" stroke-width="0.9" stroke-opacity="0.75"/>
<rect x="396.5" y="20.5" width="316.0" height="316.0" fill="none" stroke="#9a9a9a" stroke-width="1"/>
<path d="M397.5,336.0 v-3.2 M397.5,21.0 v3.2 M409.5,336.0 v-2.0 M409.5,21.0 v2.0 M421.5,336.0 v-2.0 M421.5,21.0 v2.0 M433.5,336.0 v-2.0 M433.5,21.0 v2.0 M444.5,336.0 v-2.0 M444.5,21.0 v2.0 M456.5,336.0 v-3.2 M456.5,21.0 v3.2 M468.5,336.0 v-2.0 M468.5,21.0 v2.0 M480.5,336.0 v-2.0 M480.5,21.0 v2.0 M492.5,336.0 v-2.0 M492.5,21.0 v2.0 M504.5,336.0 v-2.0 M504.5,21.0 v2.0 M515.5,336.0 v-3.2 M515.5,21.0 v3.2 M527.5,336.0 v-2.0 M527.5,21.0 v2.0 M539.5,336.0 v-2.0 M539.5,21.0 v2.0 M551.5,336.0 v-2.0 M551.5,21.0 v2.0 M563.5,336.0 v-2.0 M563.5,21.0 v2.0 M575.5,336.0 v-3.2 M575.5,21.0 v3.2 M586.5,336.0 v-2.0 M586.5,21.0 v2.0 M598.5,336.0 v-2.0 M598.5,21.0 v2.0 M610.5,336.0 v-2.0 M610.5,21.0 v2.0 M622.5,336.0 v-2.0 M622.5,21.0 v2.0 M634.5,336.0 v-3.2 M634.5,21.0 v3.2 M646.5,336.0 v-2.0 M646.5,21.0 v2.0 M657.5,336.0 v-2.0 M657.5,21.0 v2.0 M669.5,336.0 v-2.0 M669.5,21.0 v2.0 M681.5,336.0 v-2.0 M681.5,21.0 v2.0 M693.5,336.0 v-3.2 M693.5,21.0 v3.2 M705.5,336.0 v-2.0 M705.5,21.0 v2.0 M397.0,330.5 h3.2 M712.0,330.5 h-3.2 M397.0,320.5 h2.0 M712.0,320.5 h-2.0 M397.0,309.5 h2.0 M712.0,309.5 h-2.0 M397.0,299.5 h2.0 M712.0,299.5 h-2.0 M397.0,289.5 h2.0 M712.0,289.5 h-2.0 M397.0,279.5 h3.2 M712.0,279.5 h-3.2 M397.0,269.5 h2.0 M712.0,269.5 h-2.0 M397.0,259.5 h2.0 M712.0,259.5 h-2.0 M397.0,249.5 h2.0 M712.0,249.5 h-2.0 M397.0,238.5 h2.0 M712.0,238.5 h-2.0 M397.0,228.5 h3.2 M712.0,228.5 h-3.2 M397.0,218.5 h2.0 M712.0,218.5 h-2.0 M397.0,208.5 h2.0 M712.0,208.5 h-2.0 M397.0,198.5 h2.0 M712.0,198.5 h-2.0 M397.0,188.5 h2.0 M712.0,188.5 h-2.0 M397.0,177.5 h3.2 M712.0,177.5 h-3.2 M397.0,167.5 h2.0 M712.0,167.5 h-2.0 M397.0,157.5 h2.0 M712.0,157.5 h-2.0 M397.0,147.5 h2.0 M712.0,147.5 h-2.0 M397.0,137.5 h2.0 M712.0,137.5 h-2.0 M397.0,127.5 h3.2 M712.0,127.5 h-3.2 M397.0,117.5 h2.0 M712.0,117.5 h-2.0 M397.0,106.5 h2.0 M712.0,106.5 h-2.0 M397.0,96.5 h2.0 M712.0,96.5 h-2.0 M397.0,86.5 h2.0 M712.0,86.5 h-2.0 M397.0,76.5 h3.2 M712.0,76.5 h-3.2 M397.0,66.5 h2.0 M712.0,66.5 h-2.0 M397.0,56.5 h2.0 M712.0,56.5 h-2.0 M397.0,45.5 h2.0 M712.0,45.5 h-2.0 M397.0,35.5 h2.0 M712.0,35.5 h-2.0 M397.0,25.5 h3.2 M712.0,25.5 h-3.2 " stroke="#8c8c8c" stroke-width="1" fill="none"/>
<text transform="translate(397.70,343.9) scale(1,1.04)" class="tk" text-anchor="middle">1.0</text>
<text transform="translate(456.90,343.9) scale(1,1.04)" class="tk" text-anchor="middle">1.5</text>
<text transform="translate(516.10,343.9) scale(1,1.04)" class="tk" text-anchor="middle">2.0</text>
<text transform="translate(575.30,343.9) scale(1,1.04)" class="tk" text-anchor="middle">2.5</text>
<text transform="translate(634.50,343.9) scale(1,1.04)" class="tk" text-anchor="middle">3.0</text>
<text transform="translate(693.70,343.9) scale(1,1.04)" class="tk" text-anchor="middle">3.5</text>
<text transform="translate(394.40,332.90) scale(1,1.04)" class="tk" text-anchor="end">1.0</text>
<text transform="translate(394.40,282.13) scale(1,1.04)" class="tk" text-anchor="end">1.5</text>
<text transform="translate(394.40,231.35) scale(1,1.04)" class="tk" text-anchor="end">2.0</text>
<text transform="translate(394.40,180.58) scale(1,1.04)" class="tk" text-anchor="end">2.5</text>
<text transform="translate(394.40,129.80) scale(1,1.04)" class="tk" text-anchor="end">3.0</text>
<text transform="translate(394.40,79.03) scale(1,1.04)" class="tk" text-anchor="end">3.5</text>
<text transform="translate(394.40,28.25) scale(1,1.04)" class="tk" text-anchor="end">4.0</text>
<text x="554.3" y="15.7" class="ttl" text-anchor="middle">D6b: <tspan fill="#0000ff">WBF</tspan>, <tspan fill="#14a514">Indirect</tspan> and <tspan fill="#800080">Γ<tspan class="sub2" dy="2.5">Z,inv</tspan></tspan><tspan dy="-2.5"> 95% Exclusions</tspan></text>
<text transform="translate(360,359.3)" class="ax"><tspan x="147.1 153.2 159.9">Log</tspan><tspan class="sub" x="169.2" dy="3.1">10</tspan><tspan x="177.5" dy="-3.1">[</tspan><tspan font-style="italic" x="183.0">m</tspan><tspan class="sub" font-style="italic" x="193.7" dy="3.1">χ</tspan><tspan x="202.6" dy="-3.1">(GeV)]</tspan></text>
<text transform="translate(377.6,222.0) rotate(-90)" class="ax"><tspan x="-0.2 5.9 12.6">Log</tspan><tspan class="sub" x="21.5" dy="3.1">10</tspan><tspan x="30.7" dy="-3.1">[</tspan><tspan x="34.9">Λ</tspan><tspan x="48.9">(GeV)]</tspan></text>
<text x="583.5" y="130.5" class="cl">0</text>
<text x="606.3" y="148.8" class="cl">−1</text>
<text x="629.4" y="189.8" class="cl">−2</text>
<text x="649.4" y="234.4" class="cl">−4</text>
<text x="675" y="273.8" class="cl">−6</text>
<text x="690" y="302" class="cl">−8</text>
<text transform="translate(600.4,176) rotate(-6)" class="rl">99%</text>
<text transform="translate(625.5,208) rotate(-4)" class="rl">90%</text>
<text transform="translate(641,256) rotate(-6)" class="rl">50%</text>
</g>
</svg>
</body></html>
